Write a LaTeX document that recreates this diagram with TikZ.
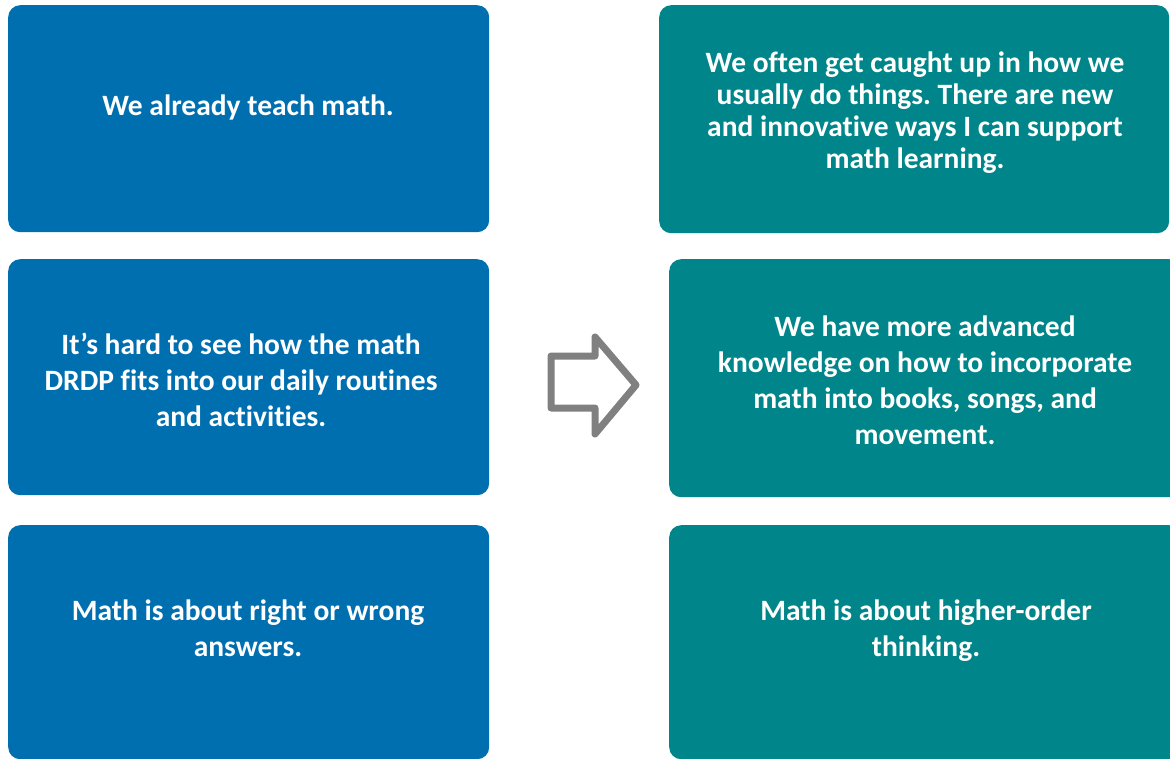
\documentclass[tikz,border=0pt]{standalone}
\usepackage{fontspec}
\setmainfont{Carlito}[Ligatures=NoCommon]
\usetikzlibrary{positioning}

\definecolor{oldblue}{RGB}{0,111,176}
\definecolor{newteal}{RGB}{0,134,138}
\definecolor{arrowgray}{RGB}{128,128,128}

\tikzset{
  card/.style={rounded corners=12pt,inner sep=0pt,anchor=north west},
  oldcard/.style={card,fill=oldblue},
  newcard/.style={card,fill=newteal},
  cardtext/.style={text=white,align=center,font=\fontsize{29.5}{36}\selectfont\bfseries\frenchspacing}
}

\begin{document}
\begin{tikzpicture}[x=1pt,y=-1pt]
    \useasboundingbox (0,0) rectangle (1170,759);

    \node[oldcard,minimum width=481pt,minimum height=227pt] (old1) at (8,5) {};
    \node[oldcard,minimum width=481pt,minimum height=236pt] (old2) at (8,259) {};
    \node[oldcard,minimum width=481pt,minimum height=234pt] (old3) at (8,525) {};

    \node[newcard,minimum width=510pt,minimum height=228pt] (new1) at (659,5) {};
    \node[newcard,minimum width=512pt,minimum height=238pt] (new2) at (669,259) {};
    \node[newcard,minimum width=512pt,minimum height=234pt] (new3) at (669,525) {};

    \node[cardtext] (old1txt) at (248,107) {We already teach math.};
    \node[cardtext] (old2txt) at (241,380) {It’s hard to see how the math\\DRDP fits into our daily routines\\and activities.};
    \node[cardtext] (old3txt) at (248,628) {Math is about right or wrong\\answers.};

    \node[cardtext,font=\fontsize{29.5}{32}\selectfont\bfseries\frenchspacing] (new1txt) at (915,113) {We often get caught up in how we\\usually do things. There are new\\and innovative ways I can support\\math learning.};
    \node[cardtext] (new2txt) at (925,380) {We have more advanced\\knowledge on how to incorporate\\math into books, songs, and\\movement.};
    \node[cardtext] (new3txt) at (926,631) {Math is about higher-order\\thinking.};

    % shift arrow
    \draw[arrowgray,line width=7pt,line join=round]
        (551,356) -- (595,356) -- (595,337) -- (636,385) -- (595,434)
        -- (595,408) -- (551,408) -- cycle;
\end{tikzpicture}
\end{document}
